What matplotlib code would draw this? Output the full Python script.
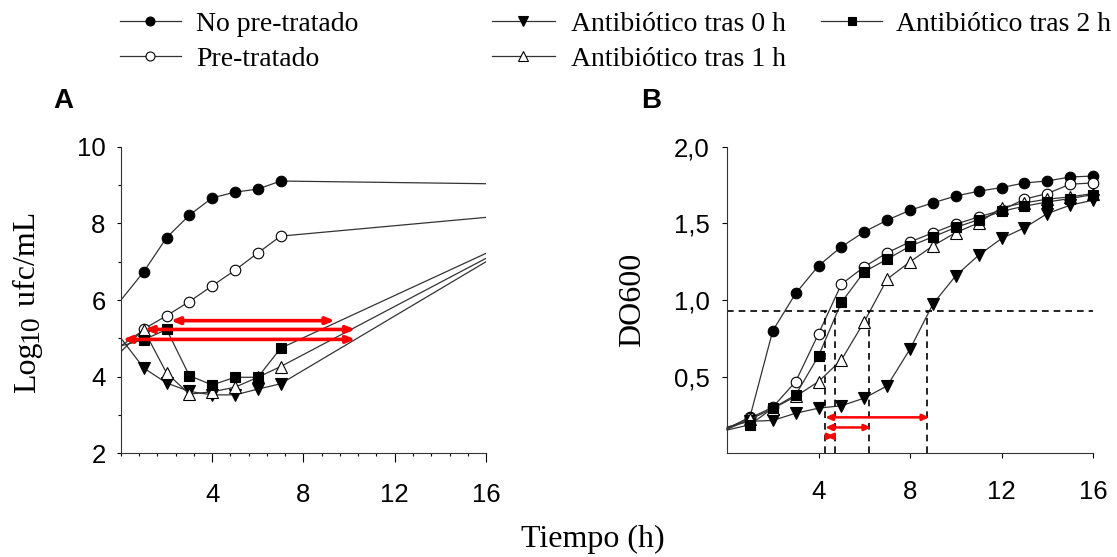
import numpy as np
import matplotlib
matplotlib.use('Agg')
import matplotlib.pyplot as plt
from matplotlib.ticker import MultipleLocator, FixedLocator

# panel A: log10 ufc/mL vs tiempo (h)
tA = [0, 1, 2, 3, 4, 5, 6, 7, 16]
A_no = [6.0, 6.74, 7.63, 8.22, 8.67, 8.82, 8.90, 9.11, 9.04]
A_pre = [4.65, 5.24, 5.59, 5.96, 6.37, 6.78, 7.23, 7.67, 8.16]
A_t0 = [5.0, 4.22, 3.83, 3.61, 3.52, 3.52, 3.67, 3.81, 7.0]
A_t1 = [4.8, 5.22, 4.09, 3.54, 3.60, 3.72, 3.98, 4.26, 7.09]
A_t2 = [4.8, 4.96, 5.23, 4.02, 3.78, 3.98, 3.98, 4.74, 7.22]
# red arrows in A: (y, x start, x end)
A_arrows = [(5.46, 2.18, 9.38), (5.23, 1.02, 10.28), (4.97, 0.07, 10.28)]

# panel B: DO600 vs tiempo (h)
tB = list(range(0, 17))
B_no = [0.16, 0.235, 0.80, 1.043, 1.224, 1.348, 1.446, 1.522, 1.587, 1.635, 1.68, 1.711,
        1.735, 1.765, 1.778, 1.804, 1.81]
B_pre = [0.16, 0.228, 0.30, 0.467, 0.78, 1.104, 1.217, 1.309, 1.38, 1.439, 1.496, 1.543,
         1.587, 1.659, 1.696, 1.757, 1.765]
B_t0 = [0.17, 0.207, 0.213, 0.26, 0.293, 0.309, 0.359, 0.439, 0.68, 0.974, 1.159, 1.293,
        1.402, 1.472, 1.565, 1.62, 1.652]
B_t1 = [0.155, 0.22, 0.29, 0.37, 0.467, 0.609, 0.859, 1.137, 1.25, 1.354, 1.441, 1.504,
        1.604, 1.635, 1.659, 1.674, 1.696]
B_t2 = [0.15, 0.185, 0.293, 0.38, 0.635, 0.985, 1.185, 1.267, 1.352, 1.413, 1.474, 1.526,
        1.58, 1.613, 1.641, 1.663, 1.689]
B_thr = 0.93
B_vlines = [4.29, 4.73, 6.2, 8.74]
B_arrows = [(0.233, 4.29, 8.84), (0.167, 4.29, 6.3), (0.109, 4.33, 4.7)]

labels = ['No pre-tratado', 'Pre-tratado', 'Antibiótico tras 0 h',
          'Antibiótico tras 1 h', 'Antibiótico tras 2 h']
styles = [dict(marker='o', mfc='black'), dict(marker='o', mfc='white'),
          dict(marker='v', mfc='black'), dict(marker='^', mfc='white'),
          dict(marker='s', mfc='black')]
msizes = [7.6, 7.6, 8.2, 8.6, 7.0]

lc = '#333333'

fig = plt.figure(figsize=(11.17, 5.57), dpi=100)
axA = fig.add_axes([0.1083, 0.1867, 0.3268, 0.5494])
axB = fig.add_axes([0.6509, 0.1867, 0.3277, 0.5494])

handles = []
for ys, st, ms in zip([A_no, A_pre, A_t0, A_t1, A_t2], styles, msizes):
    h, = axA.plot(tA, ys, color=lc, lw=0.9, mec='black', mew=0.8, ms=ms,
                  markevery=slice(1, -1), **st)
    handles.append(h)
for ys, st, ms in zip([B_no, B_pre, B_t0, B_t1, B_t2], styles, msizes):
    axB.plot(tB, ys, color=lc, lw=0.9, mec='black', mew=0.8, ms=ms,
             markevery=slice(1, None), clip_on=False, **st)

for y, x0, x1 in A_arrows:
    axA.annotate('', xy=(x1, y), xytext=(x0, y),
                 arrowprops=dict(arrowstyle='<|-|>,head_length=0.5,head_width=0.2',
                                 color='red', lw=2.6, shrinkA=0, shrinkB=0))

axB.plot([0, 16], [B_thr, B_thr], color='black', lw=1.2, ls=(0, (4, 3)))
for xv in B_vlines:
    axB.plot([xv, xv], [0, B_thr], color='black', lw=1.2, ls=(0, (4, 3)), clip_on=False)
for y, x0, x1 in B_arrows:
    axB.annotate('', xy=(x1, y), xytext=(x0, y),
                 arrowprops=dict(arrowstyle='<|-|>,head_length=0.4,head_width=0.18',
                                 color='red', lw=1.8, shrinkA=0, shrinkB=0))

# axes styling
for ax in (axA, axB):
    ax.spines['top'].set_visible(False)
    ax.spines['right'].set_visible(False)
    for s in ('left', 'bottom'):
        ax.spines[s].set_linewidth(0.8)
        ax.spines[s].set_color('#333333')
    ax.set_xlim(0, 16)
    ax.xaxis.set_major_locator(FixedLocator([4, 8, 12, 16]))

axA.set_ylim(2, 10)
axA.yaxis.set_major_locator(FixedLocator([2, 4, 6, 8, 10]))
axA.xaxis.set_minor_locator(MultipleLocator(0.8))
axA.yaxis.set_minor_locator(MultipleLocator(1))
axA.tick_params(axis='x', which='major', direction='out', length=6.5, width=0.8, pad=15, labelsize=18.5)
axA.tick_params(axis='x', which='minor', direction='out', length=2.5, width=0.8)
axA.tick_params(axis='y', which='major', direction='out', length=3, width=0.8, pad=8, labelsize=18.5)
axA.tick_params(axis='y', which='minor', direction='out', length=2, width=0.8)

axB.set_ylim(0, 2.0)
axB.yaxis.set_major_locator(FixedLocator([0.5, 1.0, 1.5, 2.0]))
axB.set_yticklabels(['0,5', '1,0', '1,5', '2,0'])
axB.tick_params(axis='x', direction='out', length=3.5, width=0.8, pad=16, labelsize=18.5)
axB.tick_params(axis='y', direction='out', length=3.5, width=0.8, pad=9, labelsize=18.5)

for ax in (axA, axB):
    for lab in ax.get_xticklabels() + ax.get_yticklabels():
        lab.set_fontfamily('Liberation Sans')

# y label of A built from pieces so the "10" is a big, slightly lowered subscript
fig.canvas.draw()
rend = fig.canvas.get_renderer()
W, H = fig.bbox.width, fig.bbox.height
base_x = 35.0          # baseline position, pixels from left
cur_y = 557 - 393.0    # start of label, pixels from bottom
for piece, fs, dx in [('Log', 23, 0.0), ('10', 20, 3.0), (' ufc/mL', 23, 0.0)]:
    t = fig.text((base_x + dx) / W, cur_y / H, piece, rotation=90, rotation_mode='anchor',
                 ha='left', va='baseline', family='Liberation Serif', fontsize=fs)
    bb = t.get_window_extent(rend)
    cur_y += bb.height

fig.text(0.566, 0.461, 'DO600', rotation=90, ha='center', va='center',
         family='Liberation Serif', fontsize=23)
fig.text(0.531, 0.031, 'Tiempo (h)', ha='center', va='center',
         family='Liberation Serif', fontsize=23)
fig.text(0.057, 0.818, 'A', ha='center', va='center', family='Liberation Sans',
         fontweight='bold', fontsize=20)
fig.text(0.583, 0.818, 'B', ha='center', va='center', family='Liberation Sans',
         fontweight='bold', fontsize=20)

legfont = {'family': 'Liberation Serif', 'size': 20}
cols = [([0, 1], 0.107, 2.23, 0.54), ([2, 3], 0.4405, 2.25, 0.6), ([4], 0.735, 2.2, 0.5)]
for idx, xpos, hl, tp in cols:
    fig.legend([handles[i] for i in idx], [labels[i] for i in idx],
               loc='upper left', bbox_to_anchor=(xpos, 0.98), frameon=False,
               prop=legfont, handlelength=hl, handletextpad=tp, labelspacing=0.36,
               borderpad=0, borderaxespad=0, markerscale=0.85)

fig.savefig('out.png', dpi=100)
